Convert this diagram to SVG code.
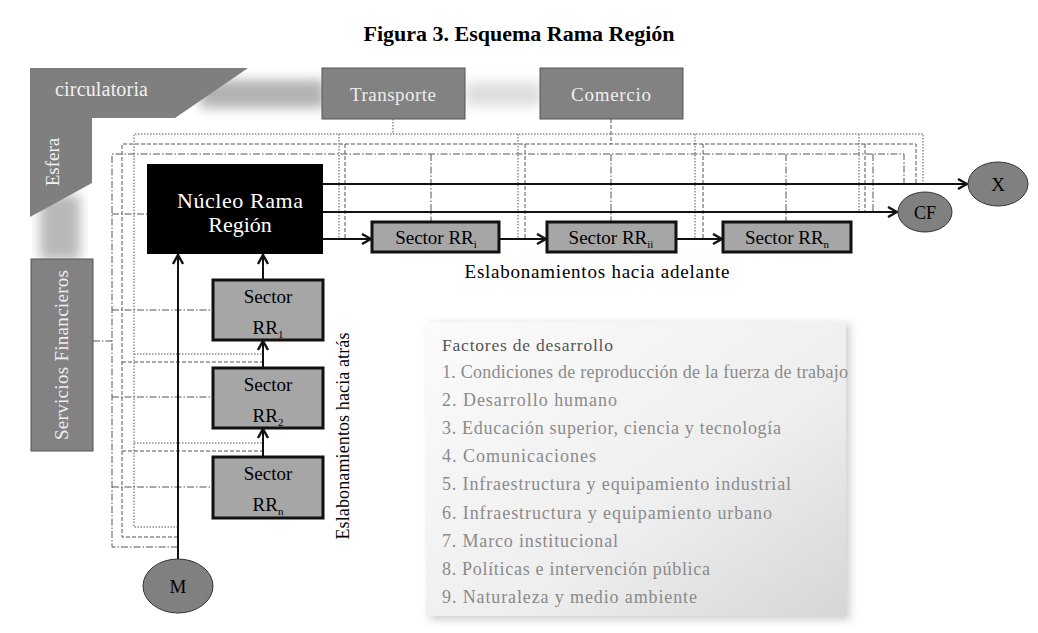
<svg xmlns="http://www.w3.org/2000/svg" width="1038" height="633" viewBox="0 0 1038 633">
<style>
.t{font-family:"Liberation Serif","Times New Roman",serif}
.dot{fill:none;stroke:#555;stroke-width:1;stroke-dasharray:1.5 1.5}
.dash{fill:none;stroke:#555;stroke-width:1;stroke-dasharray:4 2}
.dd{fill:none;stroke:#555;stroke-width:1;stroke-dasharray:7 2 1.5 2}
.arr{fill:none;stroke:#111;stroke-width:2}
.sec{fill:#a6a6a6;stroke:#111;stroke-width:3}
.gbox{fill:#828282;stroke:#555;stroke-width:1}
.fac{font-size:18px;fill:#8a8a8a}
</style>
<defs>
<marker id="ah" viewBox="0 0 12 12" refX="11" refY="6" markerWidth="12" markerHeight="12" markerUnits="userSpaceOnUse" orient="auto">
<path d="M2,1 L11,6 L2,11" fill="none" stroke="#111" stroke-width="2.4"/>
</marker>
<linearGradient id="facg" x1="0" y1="0" x2="1" y2="1">
<stop offset="0" stop-color="#fbfbfb"/>
<stop offset="0.6" stop-color="#eeeeee"/>
<stop offset="1" stop-color="#d6d6d6"/>
</linearGradient>
<filter id="blur" x="-20%" y="-50%" width="140%" height="200%"><feGaussianBlur stdDeviation="6"/></filter>
<filter id="blur2" x="-10%" y="-10%" width="120%" height="120%"><feGaussianBlur stdDeviation="4"/></filter>
</defs>
<rect width="1038" height="633" fill="#ffffff"/>
<text class="t" x="519" y="41" text-anchor="middle" font-size="22" font-weight="bold" fill="#000">Figura 3. Esquema Rama Región</text>

<g id="bands">
<rect x="200" y="80" width="125" height="28" fill="#9a9a9a" filter="url(#blur)" opacity="0.75"/>
<rect x="465" y="82" width="76" height="24" fill="#c8c8c8" filter="url(#blur)" opacity="0.6"/>
<rect x="40" y="195" width="40" height="65" fill="#a0a0a0" filter="url(#blur)" opacity="0.75"/>
</g>

<g id="factores">
<rect x="430" y="324" width="420" height="296" fill="#cfcfcf" filter="url(#blur2)"/>
<rect x="426" y="322" width="420" height="294" fill="url(#facg)"/>
<text class="t" x="442" y="351" font-size="17.5" fill="#555" textLength="171">Factores de desarrollo</text>
<text class="t fac" x="442" y="378" textLength="406">1. Condiciones de reproducción de la fuerza de trabajo</text>
<text class="t fac" x="442" y="406" textLength="175">2. Desarrollo humano</text>
<text class="t fac" x="442" y="434" textLength="339">3. Educación superior, ciencia y tecnología</text>
<text class="t fac" x="442" y="462" textLength="154">4. Comunicaciones</text>
<text class="t fac" x="442" y="490" textLength="349">5. Infraestructura y equipamiento industrial</text>
<text class="t fac" x="442" y="519" textLength="330">6. Infraestructura y equipamiento urbano</text>
<text class="t fac" x="442" y="547" textLength="176">7. Marco institucional</text>
<text class="t fac" x="442" y="575" textLength="268">8. Políticas e intervención pública</text>
<text class="t fac" x="442" y="603" textLength="255">9. Naturaleza y medio ambiente</text>
</g>

<g id="connectors">
<path class="dot" d="M178,527 H134 V134 H923 V184"/>
<path class="dash" d="M178,537 H122 V144 H916 V184"/>
<path class="dd" d="M178,547 H112 V154 H904 V184"/>
<path class="dot" d="M393,119 V134 M339,134 V239 M518,134 V239 M695,134 V239 M859,134 V212"/>
<path class="dash" d="M611,119 V144 M345,144 V239 M525,144 V239 M703,144 V239 M865,144 V212"/>
<path class="dd" d="M431,154 V222 M611,154 V222 M786,154 V222 M873,154 V212"/>
<path class="dd" d="M112,214 H147 M112,310 H213 M93,341 H112 M112,397 H213 M112,487 H213"/>
<path class="dot" d="M134,354 H263 M134,443 H263"/>
<path class="dash" d="M122,362 H263 M122,451 H263"/>
<line class="arr" x1="323" y1="184" x2="967" y2="184" marker-end="url(#ah)"/>
<line class="arr" x1="323" y1="212" x2="897" y2="212" marker-end="url(#ah)"/>
<line class="arr" x1="323" y1="239" x2="371" y2="239" marker-end="url(#ah)"/>
<line class="arr" x1="499" y1="239" x2="546" y2="239" marker-end="url(#ah)"/>
<line class="arr" x1="676" y1="239" x2="722" y2="239" marker-end="url(#ah)"/>
<line class="arr" x1="178" y1="559" x2="178" y2="255" marker-end="url(#ah)"/>
<line class="arr" x1="263" y1="280" x2="263" y2="255" marker-end="url(#ah)"/>
<line class="arr" x1="263" y1="368" x2="263" y2="341" marker-end="url(#ah)"/>
<line class="arr" x1="263" y1="457" x2="263" y2="429" marker-end="url(#ah)"/>
</g>

<g id="esfera">
<polygon points="30,68 248,68 175,118 92,118 92,183 30,217" fill="#7f7f7f"/>
<text class="t" x="55" y="96" font-size="20" fill="#f2f2f2" textLength="93">circulatoria</text>
<text class="t" transform="translate(59,162) rotate(-90)" text-anchor="middle" font-size="19" fill="#f2f2f2">Esfera</text>
</g>

<g id="transporte">
<rect class="gbox" x="322" y="68" width="143" height="51"/>
<text class="t" x="393" y="101" text-anchor="middle" font-size="19" fill="#eeeeee" textLength="86">Transporte</text>
</g>
<g id="comercio">
<rect class="gbox" x="540" y="68" width="143" height="51"/>
<text class="t" x="611" y="101" text-anchor="middle" font-size="19" fill="#eeeeee" textLength="80">Comercio</text>
</g>
<g id="servicios">
<rect class="gbox" x="31" y="259" width="62" height="192"/>
<text class="t" transform="translate(68,355) rotate(-90)" text-anchor="middle" font-size="19" fill="#eeeeee" textLength="170">Servicios Financieros</text>
</g>

<g id="nucleo">
<rect x="147" y="164" width="176" height="90" fill="#000"/>
<text class="t" x="240" y="208" text-anchor="middle" font-size="22" fill="#fff" textLength="126">Núcleo Rama</text>
<text class="t" x="240" y="232" text-anchor="middle" font-size="22" fill="#fff">Región</text>
</g>

<g id="rri">
<rect class="sec" x="372" y="222" width="127" height="30"/>
<text class="t" x="436" y="244" text-anchor="middle" font-size="19">Sector RR<tspan font-size="11" dy="4">i</tspan></text>
</g>
<g id="rrii">
<rect class="sec" x="547" y="222" width="129" height="30"/>
<text class="t" x="611" y="244" text-anchor="middle" font-size="19">Sector RR<tspan font-size="11" dy="4">ii</tspan></text>
</g>
<g id="rrn">
<rect class="sec" x="723" y="222" width="128" height="30"/>
<text class="t" x="787" y="244" text-anchor="middle" font-size="19">Sector RR<tspan font-size="11" dy="4">n</tspan></text>
</g>

<g id="rr1">
<rect class="sec" x="213" y="280" width="110" height="60"/>
<text class="t" x="268" y="303" text-anchor="middle" font-size="19">Sector</text>
<text class="t" x="268" y="334" text-anchor="middle" font-size="19">RR<tspan font-size="11" dy="4">1</tspan></text>
</g>
<g id="rr2">
<rect class="sec" x="213" y="368" width="110" height="60"/>
<text class="t" x="268" y="391" text-anchor="middle" font-size="19">Sector</text>
<text class="t" x="268" y="422" text-anchor="middle" font-size="19">RR<tspan font-size="11" dy="4">2</tspan></text>
</g>
<g id="rrn2">
<rect class="sec" x="213" y="457" width="110" height="61"/>
<text class="t" x="268" y="480" text-anchor="middle" font-size="19">Sector</text>
<text class="t" x="268" y="511" text-anchor="middle" font-size="19">RR<tspan font-size="11" dy="4">n</tspan></text>
</g>

<g id="x">
<ellipse cx="998" cy="184" rx="30" ry="22" fill="#808080" stroke="#333" stroke-width="1"/>
<text class="t" x="998" y="191" text-anchor="middle" font-size="19">X</text>
</g>
<g id="cf">
<ellipse cx="925" cy="212" rx="27" ry="20" fill="#808080" stroke="#333" stroke-width="1"/>
<text class="t" x="925" y="219" text-anchor="middle" font-size="18">CF</text>
</g>
<g id="m">
<ellipse cx="178" cy="586" rx="35" ry="27" fill="#808080" stroke="#333" stroke-width="1"/>
<text class="t" x="178" y="593" text-anchor="middle" font-size="19">M</text>
</g>

<g id="labels">
<text class="t" x="597" y="278" text-anchor="middle" font-size="19" textLength="265">Eslabonamientos hacia adelante</text>
<text class="t" transform="translate(349,436) rotate(-90)" text-anchor="middle" font-size="18" textLength="207">Eslabonamientos hacia atrás</text>
</g>
</svg>
